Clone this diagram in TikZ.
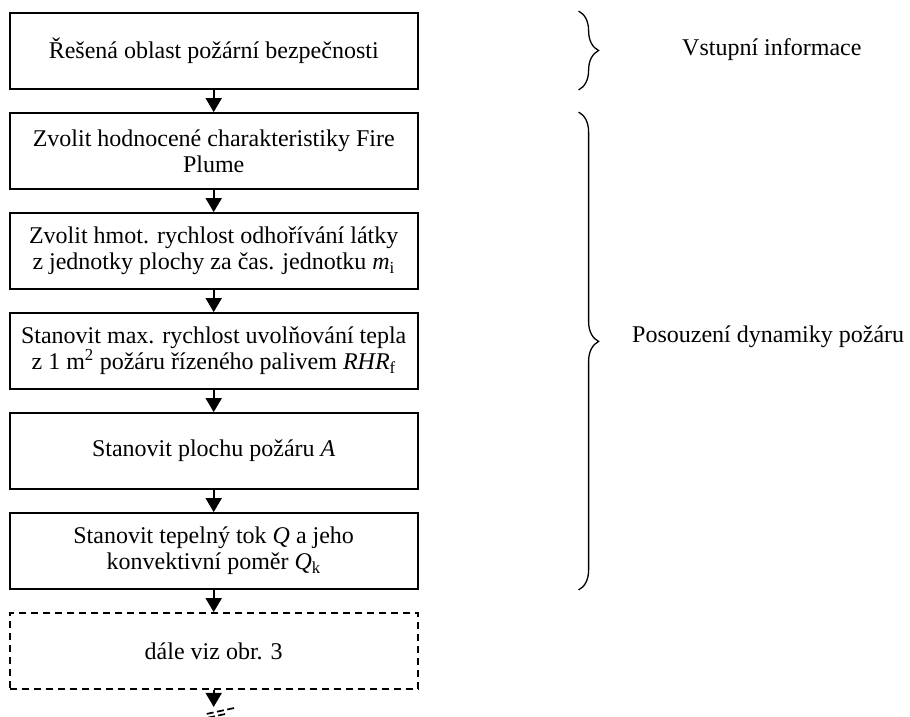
\documentclass[tikz,border=0pt]{standalone}
\usepackage{fontspec}
\setmainfont{Liberation Serif}
\usepackage{tikz}
\usetikzlibrary{arrows.meta, positioning, decorations.pathreplacing}

\begin{document}
\begin{tikzpicture}[
    x=1pt, y=-1pt,
    node distance=22.2pt,
    box/.style={draw, line width=1.8pt, minimum height=76pt, minimum width=408pt, align=center, inner sep=0pt, font=\fontsize{24}{26}\selectfont},
    dbox/.style={box, dash pattern=on 7pt off 5pt},
    arrow/.style={-{Triangle[length=14pt, width=16pt]}, line width=1.8pt},
    brc/.style={decorate, decoration={brace, amplitude=20pt}, line width=1.3pt},
    lbl/.style={anchor=west, inner sep=0pt, font=\fontsize{24}{26}\selectfont},
    brk/.style={line width=1.7pt, dash pattern=on 7pt off 3.5pt},
]
\useasboundingbox (0,0) rectangle (910,716);

\node[box] (b1) at (213.7,51) {Řešená oblast požární bezpečnosti};
\node[box, below=of b1] (b2) {Zvolit hodnocené charakteristiky Fire\\Plume};
\node[box, below=of b2] (b3) {Zvolit hmot. rychlost odhořívání látky\\z jednotky plochy za čas. jednotku \textit{m}\textsubscript{i}};
\node[box, below=of b3] (b4) {Stanovit max. rychlost uvolňování tepla\\z 1 m\textsuperscript{2} požáru řízeného palivem \textit{RHR}\textsubscript{f}};
\node[box, below=of b4] (b5) {Stanovit plochu požáru \textit{A}};
\node[box, below=of b5] (b6) {Stanovit tepelný tok \textit{Q} a jeho\\konvektivní poměr \textit{Q}\textsubscript{k}};
\node[dbox, below=of b6] (b7) {dále viz obr. 3};
\coordinate[below=17pt of b7.south] (end);

\draw[arrow] (b1) -- (b2);
\draw[arrow] (b2) -- (b3);
\draw[arrow] (b3) -- (b4);
\draw[arrow] (b4) -- (b5);
\draw[arrow] (b5) -- (b6);
\draw[arrow] (b6) -- (b7);
\draw[arrow] (b7) -- (end);

% break marks
\draw[brk] ([xshift=-7pt,yshift=-7pt]end) -- ([xshift=21pt,yshift=-1pt]end);
\draw[brk] ([xshift=-16pt,yshift=-13pt]end) -- ([xshift=12pt,yshift=-7pt]end);

% braces
\draw[brc] ([xshift=160pt,yshift=1pt]b1.north east) -- ([xshift=160pt]b1.south east);
\draw[brc, decoration={aspect=0.48}] ([xshift=160pt]b2.north east) -- ([xshift=160pt]b6.south east);

\node[lbl] (inf) at (682,50) {Vstupní informace};
\node[lbl] (dyn) at (632,337) {Posouzení dynamiky požáru};
\end{tikzpicture}
\end{document}
